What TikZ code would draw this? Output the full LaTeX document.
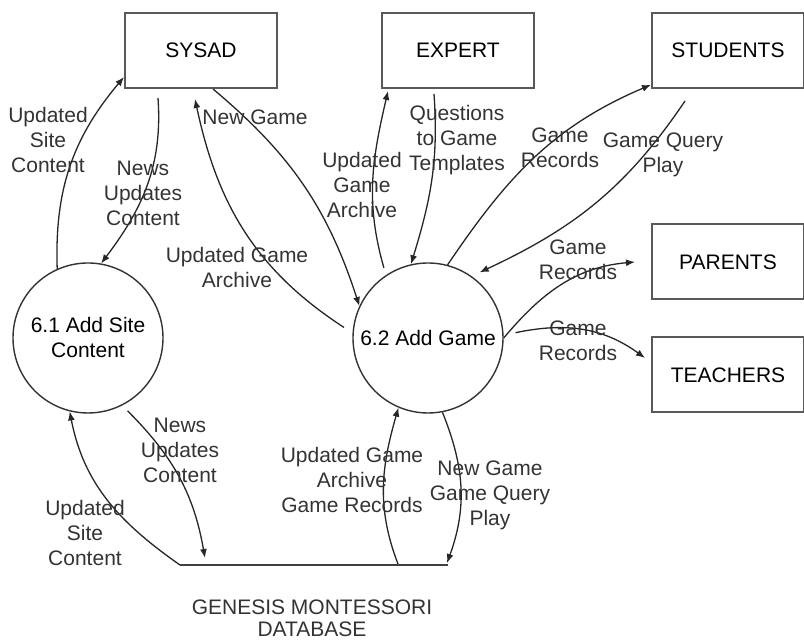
\documentclass[tikz,border=0pt]{standalone}
\usepackage{fontspec}
\setmainfont{Liberation Sans}
\usetikzlibrary{arrows.meta}

\tikzset{
  entity/.style={draw=black!65,line width=2pt,minimum width=152pt,minimum height=75pt,inner sep=0pt},
  process/.style={draw=black!80,line width=1.4pt,circle,minimum size=150pt,inner sep=0pt,align=center},
  flow/.style={draw=black!85,line width=1.3pt,->},
  lbl/.style={align=center,text=black!80,inner sep=0pt},
}

\begin{document}
\begin{tikzpicture}[x=1pt,y=1pt,>={Latex[length=9pt,width=7pt]},font=\fontsize{21}{25}\selectfont]
  \useasboundingbox (0,0) rectangle (804,644);
  % external entities
  \node[entity] (sysad) at (201,593.5) {SYSAD};
  \node[entity] (expert) at (458,593.5) {EXPERT};
  \node[entity] (students) at (728,593.5) {STUDENTS};
  \node[entity] (parents) at (728,382) {PARENTS};
  \node[entity] (teachers) at (728,269) {TEACHERS};
  % processes
  \node[process] (add1) at (88,306) {6.1 Add Site\\Content};
  \node[process] (add2) at (428,306) {6.2 Add Game};
  % data store
  \coordinate (dbL) at (180,79);
  \coordinate (dbR) at (448,79);
  \draw[line width=1.5pt,black!75] (dbL) -- (dbR);
  \node[lbl,font=\fontsize{21}{22}\selectfont] (dbname) at (312,26) {GENESIS MONTESSORI\\DATABASE};
  \coordinate (dbA) at (205,86);
  \coordinate (dbB) at (398,80);
  \coordinate (dbC) at (447,81);

  % SYSAD <-> 6.1
  \draw[flow] (add1.114) to[out=92,in=230] (sysad.199);
  \node[lbl] (usc1) at (48,504) {Updated\\Site\\Content};
  \draw[flow] ([xshift=-43pt,yshift=-9pt]sysad.south) to[out=274,in=53] (add1.80);
  \node[lbl] (nuc1) at (143,451) {News\\Updates\\Content};
  % SYSAD <-> 6.2
  \draw[flow] ([xshift=12pt]sysad.south) to[out=-40,in=108] (add2.155);
  \node[lbl] (ng1) at (255,527) {New Game};
  \draw[flow] ([xshift=-9pt]add2.172) to[out=147,in=282] ([xshift=-6pt,yshift=-10pt]sysad.south);
  \node[lbl] (uga1) at (237,376) {Updated Game\\Archive};
  % EXPERT <-> 6.2
  \draw[flow] ([xshift=-4pt,yshift=6pt]add2.122) to[out=106,in=257] ([xshift=-70pt,yshift=-2pt]expert.south);
  \node[lbl] (uga2) at (362,459) {Updated\\Game\\Archive};
  \draw[flow] ([xshift=-24pt,yshift=-5pt]expert.south) to[out=274,in=73] (add2.103);
  \node[lbl] (qgt) at (457,504) {Questions\\to Game\\Templates};
  % STUDENTS, PARENTS, TEACHERS
  \draw[flow] (add2.75) to[out=56,in=203] (students.204);
  \node[lbl] (gr1) at (560,496) {Game\\Records};
  \draw[flow] ([xshift=-43pt,yshift=-12pt]students.south) to[out=236,in=25] ([xshift=5pt,yshift=6pt]add2.52);
  \node[lbl] (gqp) at (663,489) {Game Query\\Play};
  \draw[flow] (add2.0) to[out=50,in=185] ([xshift=-16pt]parents.west);
  \node[lbl] (gr2) at (578,384) {Game\\Records};
  \draw[flow] ([xshift=12pt]add2.4) to[out=12,in=144] ([xshift=-6pt,yshift=17pt]teachers.west);
  \node[lbl] (gr3) at (578,303) {Game\\Records};
  % database <-> 6.1
  \draw[flow] ([xshift=4pt,yshift=-6pt]add1.298) to[out=-45,in=100] (dbA);
  \node[lbl] (nuc2) at (180,194) {News\\Updates\\Content};
  \draw[flow] (dbL) to[out=145,in=281] (add1.256);
  \node[lbl] (usc2) at (85,111) {Updated\\Site\\Content};
  % database <-> 6.2
  \draw[flow] (dbB) to[out=111,in=254] (add2.247);
  \node[lbl] (ugagr) at (352,164) {Updated Game\\Archive\\Game Records};
  \draw[flow] (add2.281) to[out=292,in=70] (dbC);
  \node[lbl] (nggqp) at (490,149) {New Game\\Game Query\\Play};
\end{tikzpicture}
\end{document}
